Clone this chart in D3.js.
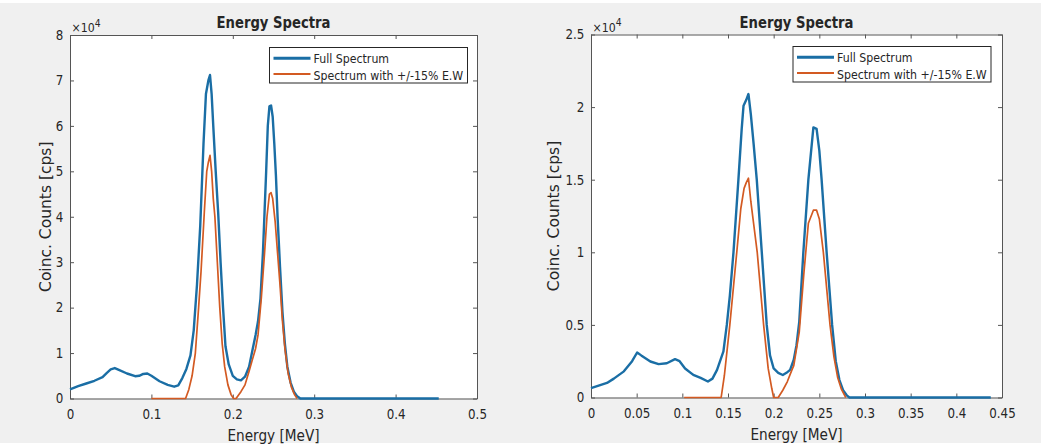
<!DOCTYPE html>
<html>
<head>
<meta charset="utf-8">
<script src="https://cdn.jsdelivr.net/npm/d3@7"></script>
<style>
  body { margin: 0; background: #ffffff; }
  svg text { font-family: "DejaVu Sans", sans-serif; fill: #262626; }
</style>
</head>
<body>
<svg id="chart" width="1041" height="445"></svg>
<script>
// energy [MeV], coincidence counts [cps]
var leftFull = [[0,2000],[0.01,2700],[0.02,3300],[0.03,3900],[0.04,4700],[0.045,5600],[0.05,6400],[0.055,6700],[0.06,6300],[0.07,5500],[0.08,4900],[0.085,5000],[0.09,5400],[0.095,5500],[0.1,5000],[0.11,3800],[0.12,3000],[0.128,2600],[0.133,2900],[0.138,4500],[0.143,6500],[0.148,9500],[0.152,15000],[0.156,25000],[0.16,38000],[0.164,56000],[0.167,67000],[0.17,70000],[0.172,71200],[0.174,67000],[0.176,60000],[0.179,50000],[0.182,41000],[0.185,30000],[0.188,20000],[0.191,11500],[0.195,7500],[0.2,5000],[0.205,4200],[0.21,4000],[0.215,4800],[0.22,7000],[0.224,10500],[0.228,14000],[0.231,17000],[0.234,22000],[0.237,32000],[0.239,41000],[0.241,50000],[0.243,60000],[0.245,64300],[0.247,64500],[0.249,62000],[0.251,56000],[0.253,49000],[0.255,40000],[0.258,29000],[0.261,19000],[0.264,12000],[0.267,7000],[0.271,3500],[0.275,1500],[0.279,500],[0.283,0],[0.453,0]];
var leftWindow = [[0.1,0],[0.142,0],[0.146,2000],[0.15,5000],[0.154,10000],[0.158,20000],[0.161,28000],[0.165,41000],[0.168,50000],[0.17,52000],[0.172,53500],[0.174,50000],[0.176,44000],[0.178,40000],[0.181,30000],[0.184,20000],[0.187,12000],[0.19,7000],[0.194,3000],[0.198,800],[0.201,0],[0.204,0],[0.21,1500],[0.215,3000],[0.22,6000],[0.224,8500],[0.228,11000],[0.231,14000],[0.235,22000],[0.239,32000],[0.242,40000],[0.245,45000],[0.247,45300],[0.249,44000],[0.252,39000],[0.255,32000],[0.258,25000],[0.261,17000],[0.264,11000],[0.268,5500],[0.272,2500],[0.276,800],[0.279,0]];
var rightFull = [[0,640],[0.01,850],[0.0175,1000],[0.025,1300],[0.036,1800],[0.045,2500],[0.0505,3100],[0.055,2900],[0.065,2480],[0.074,2300],[0.083,2360],[0.092,2640],[0.097,2500],[0.103,2000],[0.112,1560],[0.12,1350],[0.128,1100],[0.133,1300],[0.138,1900],[0.145,3170],[0.1487,5000],[0.152,7000],[0.156,10000],[0.1614,15000],[0.165,18500],[0.167,20100],[0.17,20500],[0.1724,20900],[0.175,19500],[0.178,17500],[0.1815,15000],[0.187,10000],[0.1924,5000],[0.196,2900],[0.2,2000],[0.205,1700],[0.21,1550],[0.214,1700],[0.218,1900],[0.222,2600],[0.225,3600],[0.228,5200],[0.2325,10000],[0.238,15000],[0.2435,18600],[0.247,18500],[0.25,17000],[0.2525,15000],[0.258,10000],[0.264,5000],[0.268,2500],[0.272,1200],[0.276,500],[0.28,150],[0.283,0],[0.4377,0]];
var rightWindow = [[0.102,0],[0.1425,0],[0.146,1500],[0.152,5000],[0.1596,10000],[0.164,13000],[0.1676,14400],[0.17,14800],[0.1724,15100],[0.175,13500],[0.178,12000],[0.182,10000],[0.189,5000],[0.194,2000],[0.198,600],[0.2,0],[0.205,0],[0.21,500],[0.215,1100],[0.22,1900],[0.222,2200],[0.228,4500],[0.233,8500],[0.238,12000],[0.2435,12900],[0.247,12900],[0.25,12300],[0.2544,10000],[0.2617,5000],[0.266,2800],[0.27,1400],[0.274,600],[0.279,0]];

var leftXTicks = [0, 0.1, 0.2, 0.3, 0.4, 0.5];
var leftYTicks = [0, 10000, 20000, 30000, 40000, 50000, 60000, 70000, 80000];
var rightXTicks = [0, 0.05, 0.1, 0.15, 0.2, 0.25, 0.3, 0.35, 0.4, 0.45];
var rightYTicks = [0, 5000, 10000, 15000, 20000, 25000];

var seriesNames = ["Full Spectrum", "Spectrum with +/-15% E.W"];
var blue = "#1a6ea5";
var orange = "#d35a22";
var axisColor = "#555555";
var squeeze = 0.88;

var svg = d3.select("#chart");

svg.append("rect")
    .attr("x", 0).attr("y", 3)
    .attr("width", 1041).attr("height", 440)
    .attr("fill", "#f0f0f0");

function addText(g, x, y, str, size, anchor, weight) {
    return g.append("text")
        .attr("transform", `translate(${x},${y}) scale(${squeeze},1)`)
        .attr("text-anchor", anchor || "start")
        .style("font-size", size + "px")
        .style("font-weight", weight || "normal")
        .text(str);
}

function drawPanel(p) {
    var g = svg.append("g");
    var xScale = d3.scaleLinear().domain([0, p.xMax]).range([p.x0, p.x1]);
    var yScale = d3.scaleLinear().domain([0, p.yMax]).range([p.y1, p.y0]);

    g.append("rect")
        .attr("x", p.x0).attr("y", p.y0)
        .attr("width", p.x1 - p.x0).attr("height", p.y1 - p.y0)
        .attr("fill", "#ffffff");

    var fmt = d3.format("~g");

    var bottomAxis = d3.axisBottom(xScale).tickValues(p.xTicks)
        .tickSizeInner(-4).tickSizeOuter(0).tickPadding(11)
        .tickFormat(d => fmt(d));
    var leftAxis = d3.axisLeft(yScale).tickValues(p.yTicks)
        .tickSizeInner(-4).tickSizeOuter(0).tickPadding(7.5)
        .tickFormat(d => fmt(d / 10000));
    var topAxis = d3.axisTop(xScale).tickValues(p.xTicks)
        .tickSizeInner(-4).tickSizeOuter(0).tickFormat("");
    var rightAxis = d3.axisRight(yScale).tickValues(p.yTicks)
        .tickSizeInner(-4).tickSizeOuter(0).tickFormat("");

    var xAxis = g.append("g").attr("transform", `translate(0,${p.y1})`).call(bottomAxis);
    var yAxis = g.append("g").attr("transform", `translate(${p.x0},0)`).call(leftAxis);
    var tAxis = g.append("g").attr("transform", `translate(0,${p.y0})`).call(topAxis);
    var rAxis = g.append("g").attr("transform", `translate(${p.x1},0)`).call(rightAxis);

    [xAxis, yAxis, tAxis, rAxis].forEach(function(a) {
        a.selectAll("path, line").attr("stroke", axisColor);
        a.selectAll("text")
            .style("font-size", "13.5px")
            .style("font-family", "DejaVu Sans, sans-serif")
            .attr("fill", "#262626");
    });
    xAxis.selectAll(".tick text").attr("transform", `scale(${squeeze},1)`);
    yAxis.selectAll(".tick text").attr("transform", `scale(${squeeze},1)`);

    var line = d3.line()
        .x(d => xScale(d[0]))
        .y(d => yScale(d[1]));

    g.append("path")
        .datum(p.full)
        .attr("fill", "none")
        .attr("stroke", blue)
        .attr("stroke-width", 2.4)
        .attr("stroke-linejoin", "round")
        .attr("d", line);

    g.append("path")
        .datum(p.window)
        .attr("fill", "none")
        .attr("stroke", orange)
        .attr("stroke-width", 1.7)
        .attr("stroke-linejoin", "round")
        .attr("d", line);

    // exponent label
    var ex = g.append("text")
        .attr("transform", `translate(${p.x0 + 1.5},${p.y0 - 3}) scale(${squeeze},1)`)
        .style("font-size", "12.5px");
    ex.append("tspan").text("×10");
    ex.append("tspan").attr("dy", -5.5).style("font-size", "10.5px").text("4");

    addText(g, (p.x0 + p.x1) / 2, p.y0 - 7, "Energy Spectra", 15, "middle", "bold");
    addText(g, (p.x0 + p.x1) / 2, p.y1 + 42, "Energy [MeV]", 15.5, "middle");

    g.append("text")
        .attr("transform", `translate(${p.ylabelX},${(p.y0 + p.y1) / 2}) rotate(-90)`)
        .attr("text-anchor", "middle")
        .style("font-size", "15.5px")
        .text("Coinc. Counts [cps]");

    // legend
    var lg = g.append("g").attr("transform", `translate(${p.legendX},${p.legendY})`);
    lg.append("rect")
        .attr("width", 198).attr("height", 35.5)
        .attr("fill", "#ffffff")
        .attr("stroke", "#262626")
        .attr("stroke-width", 1);
    lg.append("line")
        .attr("x1", 4).attr("x2", 41).attr("y1", 10.8).attr("y2", 10.8)
        .attr("stroke", blue).attr("stroke-width", 3);
    lg.append("line")
        .attr("x1", 4).attr("x2", 41).attr("y1", 26.5).attr("y2", 26.5)
        .attr("stroke", orange).attr("stroke-width", 1.8);
    addText(lg, 44, 15.6, seriesNames[0], 12.5);
    addText(lg, 44, 32, seriesNames[1], 12.5);
}

drawPanel({
    x0: 70, y0: 35, x1: 477, y1: 398.5,
    xMax: 0.5, yMax: 80000,
    xTicks: leftXTicks, yTicks: leftYTicks,
    full: leftFull, window: leftWindow,
    legendX: 269.5, legendY: 47.5, ylabelX: 50.7
});

drawPanel({
    x0: 591, y0: 34.5, x1: 1002, y1: 397.5,
    xMax: 0.45, yMax: 25000,
    xTicks: rightXTicks, yTicks: rightYTicks,
    full: rightFull, window: rightWindow,
    legendX: 793, legendY: 46.5, ylabelX: 559.3
});
</script>
</body>
</html>
